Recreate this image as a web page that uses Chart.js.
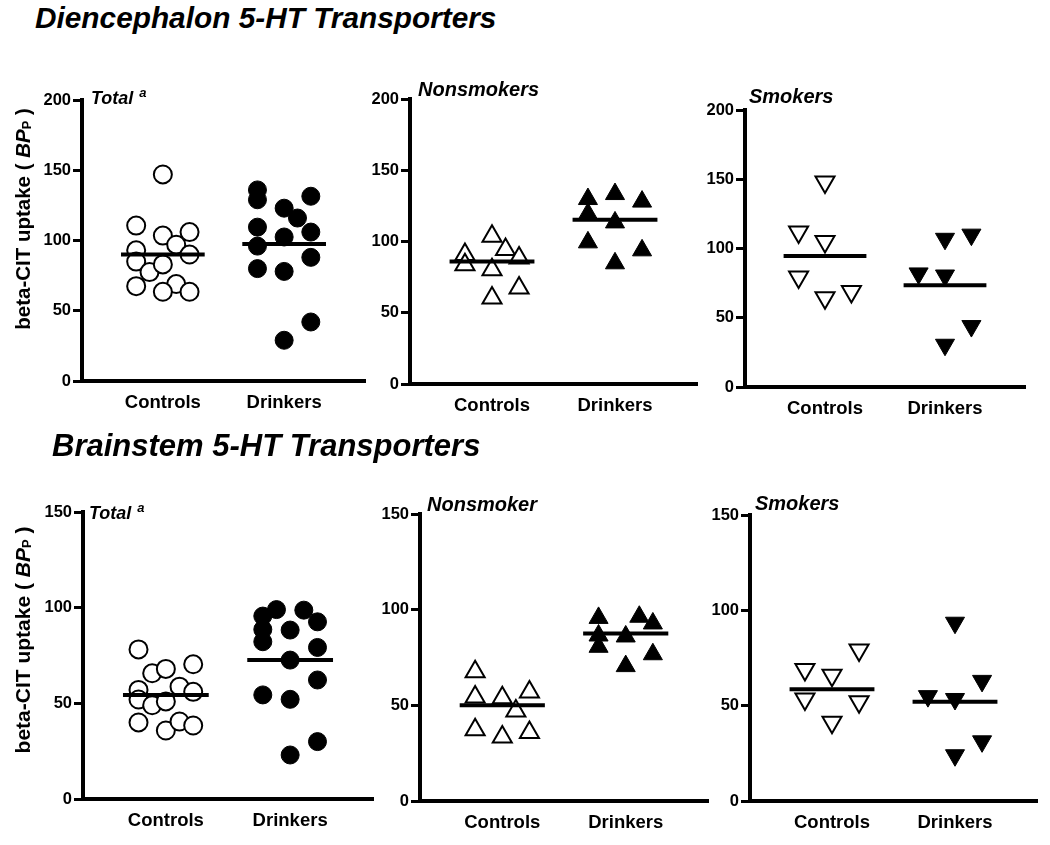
<!DOCTYPE html>
<html>
<head>
<meta charset="utf-8">
<script src="https://cdn.jsdelivr.net/npm/chart.js@4.4.0/dist/chart.umd.min.js"></script>
<style>
  body { margin:0; background:#fff; width:1050px; height:845px; position:relative; overflow:hidden;
         font-family:"Liberation Sans", Arial, sans-serif; color:#000; }
  canvas { position:absolute; }
  .heading, .plabel { position:absolute; font-weight:bold; font-style:italic; line-height:1; white-space:nowrap; z-index:2; }
  .plabel sup { font-size:13px; vertical-align:7px; margin-left:6px; }
  .ytitle { position:absolute; font-weight:bold; white-space:nowrap; line-height:1; z-index:2;
            transform:translate(-50%,-50%) rotate(-90deg); }
  .ytitle sub { font-size:0.62em; font-style:normal; vertical-align:-1px; }
</style>
</head>
<body>
<div class="heading" style="left:35px;top:3px;font-size:29.8px">Diencephalon 5-HT Transporters</div>
<div class="heading" style="left:52px;top:430px;font-size:31px">Brainstem 5-HT Transporters</div>

<div class="plabel" style="left:91px;top:86px;font-size:18px">Total<sup>a</sup></div>
<div class="plabel" style="left:418px;top:79px;font-size:20px">Nonsmokers</div>
<div class="plabel" style="left:749px;top:86px;font-size:20px">Smokers</div>
<div class="plabel" style="left:89px;top:501px;font-size:18px">Total<sup>a</sup></div>
<div class="plabel" style="left:427px;top:494px;font-size:20px">Nonsmoker</div>
<div class="plabel" style="left:755px;top:493px;font-size:20px">Smokers</div>

<div class="ytitle" style="left:23px;top:219px;font-size:20.5px">beta-CIT uptake ( <i>BP</i><sub>P</sub> )</div>
<div class="ytitle" style="left:23px;top:640px;font-size:21px">beta-CIT uptake ( <i>BP</i><sub>P</sub> )</div>

<script>
const categories = ['Controls', 'Drinkers'];

// Diencephalon (BPp); *Col = column slot of each symbol (-2..2)
const dienTotalControls = [147, 110.6, 103.5, 106, 93, 97, 90, 85, 77.5, 83, 67.5, 69, 63.5, 63.5];
const dienTotalControlsCol = [0, -2, 0, 2, -2, 1, 2, -2, -1, 0, -2, 1, 0, 2];
const dienTotalDrinkers = [136, 129, 131.5, 123, 116, 109.5, 102.5, 106, 96, 88, 80, 78, 42, 29];
const dienTotalDrinkersCol = [-2, -2, 2, 0, 1, -2, 0, 2, -2, 2, -2, 0, 2, 0];
const dienTotalMeans = [90, 97.5];

const dienNonControls = [103.6, 90.8, 83.7, 94.3, 88.4, 80.2, 60.4, 67.4];
const dienNonControlsCol = [0, -2, -2, 1, 2, 0, 0, 2];
const dienNonDrinkers = [129.8, 119.5, 133.3, 128, 113.4, 99.4, 93.8, 84.7];
const dienNonDrinkersCol = [-2, -2, 0, 2, 0, -2, 2, 0];
const dienNonMeans = [86, 115.3];

const dienSmkControls = [148, 112, 105, 79.5, 64.5, 69];
const dienSmkControlsCol = [0, -2, 0, -2, 0, 2];
const dienSmkDrinkers = [107, 110, 82, 80.5, 44, 30.5];
const dienSmkDrinkersCol = [0, 2, -2, 0, 2, 0];
const dienSmkMeans = [94.5, 73.5];

// Brainstem (BPp)
const brainTotalControls = [78.2, 65.7, 68, 70.4, 57, 52, 49, 51, 58.7, 56, 40, 35.8, 40.5, 38.4];
const brainTotalControlsCol = [-2, -1, 0, 2, -2, -2, -1, 0, 1, 2, -2, 0, 1, 2];
const brainTotalDrinkers = [95.6, 99, 98.7, 92.6, 88.6, 88.3, 82.2, 79.2, 72.6, 62.2, 54.4, 52.1, 30, 23];
const brainTotalDrinkersCol = [-2, -1, 1, 2, -2, 0, -2, 2, 0, 2, -2, 0, 2, 0];
const brainTotalMeans = [54.4, 72.6];

const brainNonControls = [67.5, 54.4, 53.9, 57, 47, 37.3, 33.5, 35.8];
const brainNonControlsCol = [-2, -2, 0, 2, 1, -2, 0, 2];
const brainNonDrinkers = [95.7, 86.5, 80.6, 96.3, 92.8, 86, 76.7, 70.5];
const brainNonDrinkersCol = [-2, -2, -2, 1, 2, 0, 2, 0];
const brainNonMeans = [50, 87.5];

const brainSmkControls = [69, 66, 79.2, 53.5, 52, 41.3];
const brainSmkControlsCol = [-2, 0, 2, -2, 2, 0];
const brainSmkDrinkers = [93.5, 63, 55, 53.5, 31.3, 24];
const brainSmkDrinkersCol = [0, 2, -2, 0, 2, 0];
const brainSmkMeans = [58.6, 52];

const dienMax = 200;
const brainMax = 150;

const FONT = '"Liberation Sans", Arial, sans-serif';
Chart.defaults.font.family = FONT;
Chart.defaults.color = '#000';

const colStep = 0.11;
const meanHalf = 0.345;
const yAxisW = 60, xAxisH = 45, padTop = 15, padRight = 6;

// L/R = x of y-axis and end of x-axis, T/B = y of max and of 0
const panels = [
  {L: 82, R: 365, T: 100, B: 381, max: dienMax, marker: 'circle', rot: 0,
   c: dienTotalControls, cc: dienTotalControlsCol, d: dienTotalDrinkers, dc: dienTotalDrinkersCol, m: dienTotalMeans},
  {L: 410, R: 697, T: 99, B: 384, max: dienMax, marker: 'triangle', rot: 0,
   c: dienNonControls, cc: dienNonControlsCol, d: dienNonDrinkers, dc: dienNonDrinkersCol, m: dienNonMeans},
  {L: 745, R: 1025, T: 110, B: 387, max: dienMax, marker: 'triangle', rot: 180,
   c: dienSmkControls, cc: dienSmkControlsCol, d: dienSmkDrinkers, dc: dienSmkDrinkersCol, m: dienSmkMeans},
  {L: 83, R: 373, T: 512, B: 799, max: brainMax, marker: 'circle', rot: 0,
   c: brainTotalControls, cc: brainTotalControlsCol, d: brainTotalDrinkers, dc: brainTotalDrinkersCol, m: brainTotalMeans},
  {L: 420, R: 708, T: 514, B: 801, max: brainMax, marker: 'triangle', rot: 0,
   c: brainNonControls, cc: brainNonControlsCol, d: brainNonDrinkers, dc: brainNonDrinkersCol, m: brainNonMeans},
  {L: 750, R: 1037, T: 515, B: 801, max: brainMax, marker: 'triangle', rot: 180,
   c: brainSmkControls, cc: brainSmkControlsCol, d: brainSmkDrinkers, dc: brainSmkDrinkersCol, m: brainSmkMeans}
];

function points(values, cols, center) {
  return values.map((v, i) => ({x: center + cols[i] * colStep, y: v}));
}
function meanLine(m, center) {
  return [{x: center - meanHalf, y: m}, {x: center + meanHalf, y: m}];
}

panels.forEach(p => {
  const cv = document.createElement('canvas');
  cv.width = yAxisW + (p.R - p.L) + padRight;
  cv.height = padTop + (p.B - p.T) + xAxisH;
  cv.style.left = (p.L - yAxisW) + 'px';
  cv.style.top = (p.T - padTop) + 'px';
  document.body.appendChild(cv);

  const r = p.marker === 'circle' ? 9 : 11;
  const lineSet = (m, center) => ({
    data: meanLine(m, center), showLine: true, borderColor: '#000', borderWidth: 4,
    pointRadius: 0, order: 0
  });

  new Chart(cv, {
    type: 'scatter',
    data: {
      datasets: [
        lineSet(p.m[0], 1),
        lineSet(p.m[1], 2),
        {data: points(p.c, p.cc, 1), pointStyle: p.marker, rotation: p.rot, pointRadius: r,
         pointBorderWidth: 2, pointBackgroundColor: '#fff', pointBorderColor: '#000', order: 1},
        {data: points(p.d, p.dc, 2), pointStyle: p.marker, rotation: p.rot, pointRadius: r,
         pointBorderWidth: 1, pointBackgroundColor: '#000', pointBorderColor: '#000', order: 1}
      ]
    },
    options: {
      responsive: false,
      animation: false,
      devicePixelRatio: 1,
      events: [],
      layout: {autoPadding: false, padding: {left: 0, right: padRight, top: padTop, bottom: 0}},
      plugins: {legend: {display: false}, tooltip: {enabled: false}},
      scales: {
        x: {
          type: 'linear', min: 1 / 3, max: 8 / 3,
          afterBuildTicks: s => { s.ticks = categories.map((c, i) => ({value: i + 1})); },
          afterFit: s => { s.height = xAxisH; },
          ticks: {callback: v => categories[v - 1], font: {size: 18.5, weight: 'bold'}, color: '#000',
                  padding: 11, maxRotation: 0, autoSkip: false},
          grid: {drawOnChartArea: false, drawTicks: false},
          border: {display: true, color: '#000', width: 4}
        },
        y: {
          min: 0, max: p.max,
          afterFit: s => { s.width = yAxisW; },
          ticks: {stepSize: 50, font: {size: 16.5, weight: 'bold'}, color: '#000', padding: 2},
          grid: {drawOnChartArea: false, drawTicks: true, tickLength: 9, tickWidth: 3, tickColor: '#000'},
          border: {display: true, color: '#000', width: 4}
        }
      }
    }
  });
});
</script>
</body>
</html>
